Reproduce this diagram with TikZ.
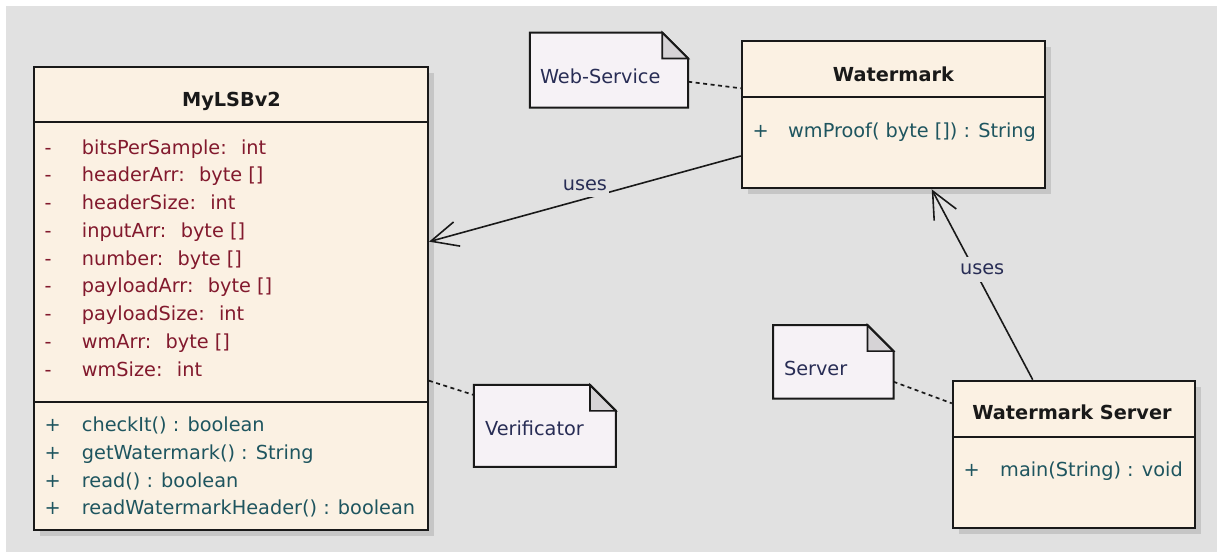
\documentclass[tikz,border=0pt]{standalone}
\usepackage{fontspec}
\setmainfont{DejaVu Sans}
\usetikzlibrary{arrows.meta,positioning,shadows}

\definecolor{canvasgray}{RGB}{225,225,225}
\definecolor{classfill}{RGB}{251,241,227}
\definecolor{notefill}{RGB}{246,242,246}
\definecolor{foldfill}{RGB}{214,211,214}
\definecolor{shadowgray}{RGB}{198,198,198}
\definecolor{attrred}{RGB}{130,25,45}
\definecolor{methteal}{RGB}{30,85,95}
\definecolor{notenavy}{RGB}{40,45,85}
\definecolor{edgeblack}{RGB}{25,25,25}

\newcommand{\umlsize}{\fontsize{19.3}{22}\selectfont}

% dog-ear corner of a note, drawn over the filled note node
\newcommand{\notecorner}[1]{%
  \fill[canvasgray] ([xshift=-26pt]#1.north east) -- (#1.north east) -- ([yshift=-26pt]#1.north east) -- cycle;
  \draw[notefold] ([xshift=-26pt]#1.north east) -- ([xshift=-26pt,yshift=-26pt]#1.north east) -- ([yshift=-26pt]#1.north east) -- cycle;
  \draw[noteline] (#1.south west) -- (#1.north west) -- ([xshift=-26pt]#1.north east) -- ([yshift=-26pt]#1.north east) -- (#1.south east) -- cycle;}

\tikzset{
  classbox/.style={rectangle, draw=edgeblack, line width=2pt, fill=classfill, inner sep=0pt,
    general shadow={fill=shadowgray, shadow xshift=6pt, shadow yshift=-6pt}},
  classline/.style={draw=edgeblack, line width=2pt},
  classname/.style={font=\umlsize\bfseries, text=edgeblack, anchor=base, inner sep=0pt},
  attrtext/.style={font=\umlsize, text=attrred, anchor=base west, inner sep=0pt},
  methtext/.style={font=\umlsize, text=methteal, anchor=base west, inner sep=0pt},
  notebox/.style={rectangle, fill=notefill, inner sep=0pt},
  notefold/.style={fill=foldfill, draw=edgeblack, line width=1.6pt},
  noteline/.style={draw=edgeblack, line width=2pt},
  notelabel/.style={font=\umlsize, text=notenavy, inner sep=0pt},
  uses/.style={draw=edgeblack, line width=1.6pt, -{Straight Barb[length=27pt, width=25pt]}},
  useslabel/.style={font=\umlsize, text=notenavy, fill=canvasgray, inner xsep=2pt, inner ysep=7pt},
  anchorline/.style={draw=edgeblack, line width=1.7pt, dash pattern=on 4pt off 3.5pt}
}

\begin{document}
\begin{tikzpicture}[x=1pt, y=-1pt]

  % canvas
  \useasboundingbox (0,0) rectangle (1217,552);
  \fill[white] (0,0) rectangle (1217,552);
  \fill[canvasgray] (6,6) rectangle (1217,552);

  % class MyLSBv2
  \node[classbox, minimum width=394pt, minimum height=463pt] (lsb) at (231,298.3) {};
  \draw[classline] ([yshift=-56.6pt]lsb.north west) -- ([yshift=-56.6pt]lsb.north east);
  \draw[classline] ([yshift=-336pt]lsb.north west) -- ([yshift=-336pt]lsb.north east);
  \node[classname] (lsbname) at (231.5,106.7) {MyLSBv2};
  \foreach \fieldtxt [count=\i] in {bitsPerSample:~ int, headerArr:~ byte [], headerSize:~ int,
      inputArr:~ byte [], number:~ byte [], payloadArr:~ byte [], payloadSize:~ int,
      wmArr:~ byte [], wmSize:~ int} {
    \node[attrtext] (lsbvis\i) at (44.5,{154+27.75*(\i-1)}) {-};
    \node[attrtext] (lsbattr\i) at (81.7,{154+27.75*(\i-1)}) {\fieldtxt};
  }
  \foreach \opertxt [count=\i] in {checkIt() : boolean, getWatermark() : String,
      read() : boolean, readWatermarkHeader() : boolean} {
    \node[methtext] (lsbopvis\i) at (44.5,{431.5+27.8*(\i-1)}) {+};
    \node[methtext] (lsbop\i) at (81.7,{431.5+27.8*(\i-1)}) {\opertxt};
  }

  % class Watermark
  \node[classbox, minimum width=303.3pt, minimum height=147.6pt] (wm) at (893.4,114.5) {};
  \draw[classline] ([yshift=-57.6pt]wm.north west) -- ([yshift=-57.6pt]wm.north east);
  \node[classname] (wmname) at (893.4,81) {Watermark};
  \node[methtext] (wmopvis) at (752.5,137.5) {+};
  \node[methtext] (wmop) at (788,137.5) {wmProof( byte []) : String};

  % class WatermarkServer
  \node[classbox, minimum width=242.3pt, minimum height=147pt] (wmsrv) at (1073.9,454.2) {};
  \draw[classline] ([yshift=-57.6pt]wmsrv.north west) -- ([yshift=-57.6pt]wmsrv.north east);
  \node[classname] (wmsrvname) at (1072,419.2) {Watermark Server};
  \node[methtext] (wmsrvopvis) at (963.3,476) {+};
  \node[methtext] (wmsrvop) at (1000,476) {main(String) : void};

  % notes
  \node[notebox, minimum width=158pt, minimum height=74.6pt] (webnote) at (609,70) {};
  \notecorner{webnote}
  \node[notelabel, right=10pt of webnote.west, yshift=-6pt] (webtext) {Web-Service};

  \node[notebox, minimum width=120pt, minimum height=73pt] (srvnote) at (833.3,361.8) {};
  \notecorner{srvnote}
  \node[notelabel, right=10.7pt of srvnote.west, yshift=-6.5pt] (srvtext) {Server};

  \node[notebox, minimum width=141.7pt, minimum height=81.7pt] (verinote) at (544.9,425.9) {};
  \notecorner{verinote}
  \node[notelabel, right=11pt of verinote.west, yshift=-2.4pt] (veritext) {Verificator};

  % note links
  \draw[anchorline] ([yshift=-11.7pt]webnote.east) -- ([yshift=26.2pt]wm.west);
  \draw[anchorline] ([yshift=-82.4pt]lsb.east) -- ([yshift=30.9pt]verinote.west);
  \draw[anchorline] ([yshift=-19.9pt]srvnote.east) -- ([yshift=50.9pt]wmsrv.west);

  % dependencies
  \draw[uses] ([yshift=-41.5pt]wm.west) -- ([yshift=56.6pt]lsb.east)
    node[useslabel, midway, yshift=14pt] (uses1) {uses};
  \draw[uses] ([xshift=-41.2pt]wmsrv.north) -- ([xshift=38.3pt]wm.south)
    node[useslabel, pos=0.58, xshift=8pt] (uses2) {uses};

\end{tikzpicture}
\end{document}
